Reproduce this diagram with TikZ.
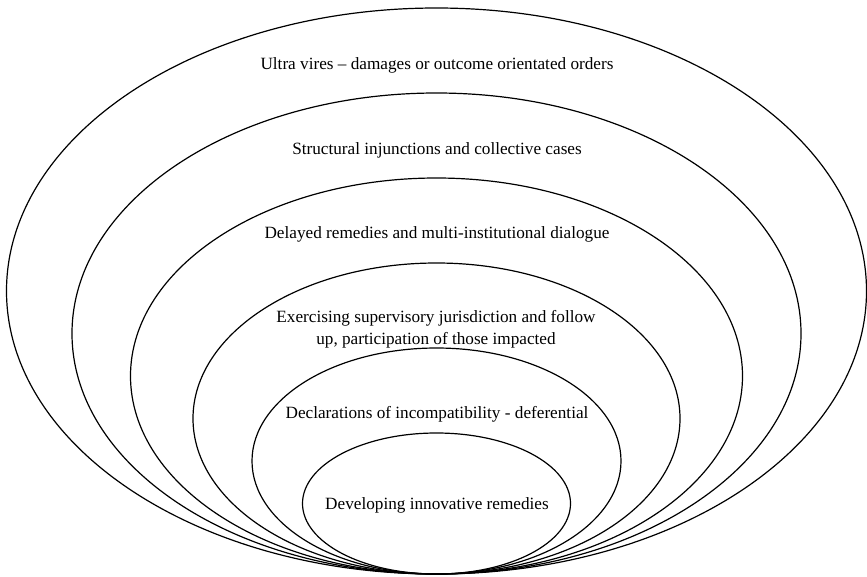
\documentclass[tikz,border=0pt]{standalone}
\usepackage{fontspec}
\setmainfont{Liberation Serif}
\tikzset{
  ring/.style={line width=1.2pt},
  label/.style={anchor=base, inner sep=0pt, align=center, font=\fontsize{17.2}{22}\selectfont}
}
\begin{document}
\begin{tikzpicture}[x=1pt, y=-1pt]
  \useasboundingbox (0,0) rectangle (867,576);
  \draw[ring] (436.5,291) ellipse [x radius=430, y radius=283];
  \draw[ring] (436.5,333.5) ellipse [x radius=364.5, y radius=240.5];
  \draw[ring] (436.5,376) ellipse [x radius=306, y radius=198];
  \draw[ring] (436.5,418.5) ellipse [x radius=243.5, y radius=155.5];
  \draw[ring] (436.5,461) ellipse [x radius=184.5, y radius=113];
  \draw[ring] (436.5,503.5) ellipse [x radius=134, y radius=70.5];
  \node[label] (ultra) at (437,69) {Ultra vires -- damages or outcome orientated orders};
  \node[label] (structural) at (437,154) {Structural injunctions and collective cases};
  \node[label] (delayed) at (437,238.5) {Delayed remedies and multi-institutional dialogue};
  \node[label, anchor=north] (supervisory) at (436,310) {Exercising supervisory jurisdiction and follow\\up, participation of those impacted};
  \node[label] (declarations) at (437,418.5) {Declarations of incompatibility - deferential};
  \node[label] (developing) at (437,509) {Developing innovative remedies};
\end{tikzpicture}
\end{document}
